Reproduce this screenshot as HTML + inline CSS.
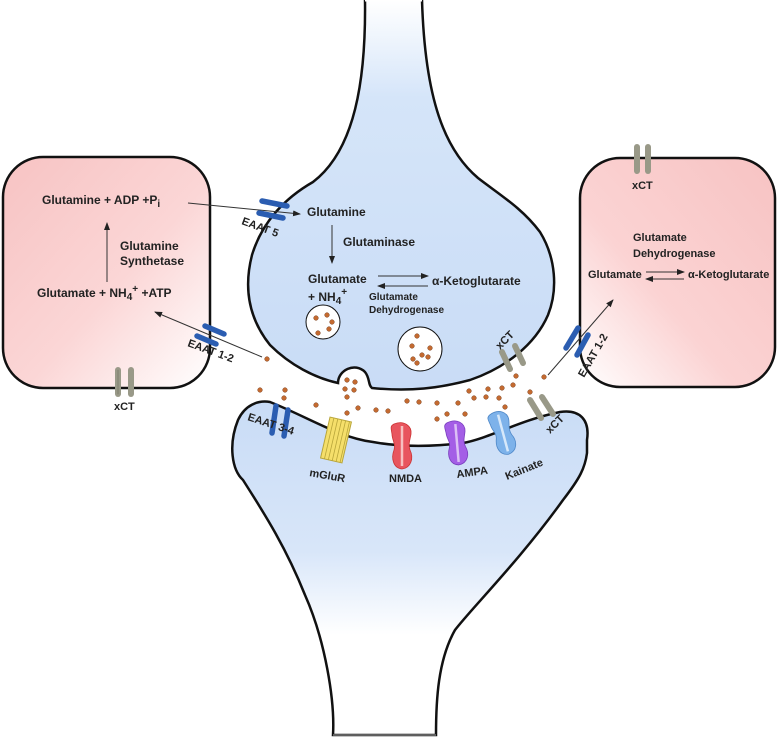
<!DOCTYPE html>
<html><head><meta charset="utf-8"><style>
html,body{margin:0;padding:0;background:#fff;}
svg{display:block;}
text{font-family:"Liberation Sans",Arial,sans-serif;font-weight:bold;fill:#222;}
</style></head><body>
<svg width="777" height="738" viewBox="0 0 777 738" xmlns="http://www.w3.org/2000/svg">
<defs>
<linearGradient id="pinkL" x1="0" y1="0" x2="1" y2="1">
<stop offset="0" stop-color="#f7c3c3"/><stop offset="0.55" stop-color="#fbd6d6"/><stop offset="1" stop-color="#ffffff"/></linearGradient>
<linearGradient id="pinkR" x1="1" y1="0" x2="0" y2="1">
<stop offset="0" stop-color="#f7c3c3"/><stop offset="0.6" stop-color="#fbd3d3"/><stop offset="1" stop-color="#ffffff"/></linearGradient>
<linearGradient id="bluePre" x1="0" y1="0" x2="0" y2="1">
<stop offset="0" stop-color="#ffffff"/><stop offset="0.25" stop-color="#d5e5f9"/><stop offset="1" stop-color="#c9dcf6"/></linearGradient>
<linearGradient id="bluePost" x1="0" y1="0" x2="0" y2="1">
<stop offset="0" stop-color="#c9dcf6"/><stop offset="0.45" stop-color="#d8e6f9"/><stop offset="0.7" stop-color="#ffffff"/></linearGradient>
<marker id="ah" markerWidth="8" markerHeight="8" refX="7" refY="4" orient="auto" markerUnits="userSpaceOnUse">
<path d="M0,1 L8,4 L0,7 Z" fill="#222"/></marker>
</defs>

<!-- astrocyte boxes -->
<rect x="3" y="157" width="207" height="231" rx="40" fill="url(#pinkL)" stroke="#111" stroke-width="2.5"/>
<rect x="580" y="158" width="195" height="229" rx="40" fill="url(#pinkR)" stroke="#111" stroke-width="2.5"/>

<!-- presynaptic -->
<path d="M365,0 C366,80 355,150 313,182 C285,198 262,222 252,255 C243,290 250,320 270,345 C290,365 315,378 338,383 C338,370 355,362 365,372 C370,378 368,385 372,388 C410,392 440,388 470,380 C505,368 535,345 548,315 C558,290 556,258 540,232 C522,208 500,195 478,178 C445,150 425,100 422,0"
 fill="url(#bluePre)" stroke="#111" stroke-width="2.5"/>
<path d="M365,0 L422,0" stroke="#fff" stroke-width="3"/>

<!-- postsynaptic -->
<path d="M243,480 C232,470 228,445 238,420 C245,405 258,400 270,402 C310,418 340,438 373,442 C400,447 430,447 463,443 C490,438 520,420 560,412 C580,409 590,420 587,440 L587,453 C585,468 580,478 563,500 C520,560 470,610 455,630 C438,660 436,700 436,735 L333,735 C335,700 325,640 305,595 C285,545 262,510 243,480 Z"
 fill="url(#bluePost)" stroke="#111" stroke-width="2.5"/>
<path d="M333,735 L436,735" stroke="#aaa" stroke-width="1"/>

<!-- vesicles -->
<circle cx="323" cy="322" r="17" fill="#fff" stroke="#111" stroke-width="1"/>
<circle cx="420" cy="349" r="22" fill="#fff" stroke="#111" stroke-width="1"/>
<g fill="#c46a30" stroke="#7a3a14" stroke-width="0.5">
<circle cx="316" cy="318" r="2.3"/><circle cx="327" cy="315" r="2.3"/><circle cx="332" cy="322" r="2.3"/><circle cx="329" cy="329" r="2.3"/><circle cx="318" cy="333" r="2.3"/>
<circle cx="417" cy="336" r="2.3"/><circle cx="412" cy="346" r="2.3"/><circle cx="430" cy="348" r="2.3"/><circle cx="422" cy="355" r="2.3"/><circle cx="413" cy="359" r="2.3"/><circle cx="428" cy="357" r="2.3"/><circle cx="417" cy="363" r="2.3"/>
<!-- cleft dots -->
<circle cx="267" cy="359" r="2.3"/><circle cx="284" cy="398" r="2.3"/><circle cx="285" cy="390" r="2.3"/><circle cx="260" cy="390" r="2.3"/>
<circle cx="347" cy="380" r="2.3"/><circle cx="355" cy="382" r="2.3"/><circle cx="345" cy="389" r="2.3"/><circle cx="354" cy="390" r="2.3"/><circle cx="347" cy="397" r="2.3"/>
<circle cx="316" cy="405" r="2.3"/><circle cx="347" cy="413" r="2.3"/><circle cx="358" cy="408" r="2.3"/><circle cx="376" cy="410" r="2.3"/><circle cx="388" cy="411" r="2.3"/>
<circle cx="407" cy="401" r="2.3"/><circle cx="419" cy="402" r="2.3"/><circle cx="437" cy="419" r="2.3"/><circle cx="447" cy="414" r="2.3"/><circle cx="465" cy="414" r="2.3"/>
<circle cx="437" cy="403" r="2.3"/><circle cx="458" cy="403" r="2.3"/><circle cx="469" cy="391" r="2.3"/><circle cx="474" cy="398" r="2.3"/><circle cx="488" cy="389" r="2.3"/>
<circle cx="486" cy="397" r="2.3"/><circle cx="502" cy="388" r="2.3"/><circle cx="499" cy="398" r="2.3"/><circle cx="505" cy="407" r="2.3"/><circle cx="500" cy="415" r="2.3"/>
<circle cx="530" cy="392" r="2.3"/><circle cx="544" cy="377" r="2.3"/><circle cx="516" cy="376" r="2.3"/><circle cx="513" cy="385" r="2.3"/>
</g>

<!-- arrows -->
<g stroke="#333" stroke-width="1" fill="none">
<line x1="107" y1="282" x2="107" y2="223" marker-end="url(#ah)"/>
<line x1="188" y1="203" x2="300" y2="214" marker-end="url(#ah)"/>
<line x1="332" y1="225" x2="332" y2="263" marker-end="url(#ah)"/>
<line x1="378" y1="276" x2="428" y2="276" marker-end="url(#ah)"/>
<line x1="428" y1="286" x2="378" y2="286" marker-end="url(#ah)"/>
<line x1="262" y1="357" x2="155" y2="312" marker-end="url(#ah)"/>
<line x1="548" y1="375" x2="613" y2="300" marker-end="url(#ah)"/>
<line x1="646" y1="272" x2="684" y2="272" marker-end="url(#ah)"/>
<line x1="684" y1="279" x2="646" y2="279" marker-end="url(#ah)"/>
</g>

<!-- transporters -->
<g stroke="#2b5db1" stroke-width="5.5" stroke-linecap="round">
<line x1="262" y1="201" x2="287" y2="206"/><line x1="259" y1="213" x2="283" y2="218"/>
<line x1="205" y1="326" x2="224" y2="334"/><line x1="197" y1="336" x2="216" y2="344"/>
<line x1="578" y1="328" x2="566" y2="348"/><line x1="588" y1="335" x2="577" y2="355"/>
<line x1="276" y1="406" x2="272" y2="433"/><line x1="288" y1="410" x2="284" y2="436"/>
</g>
<g stroke="#999988" stroke-width="6" stroke-linecap="round">
<line x1="118" y1="370" x2="118" y2="394"/><line x1="131" y1="370" x2="131" y2="394"/>
<line x1="637" y1="147" x2="637" y2="171"/><line x1="648" y1="147" x2="648" y2="171"/>
<line x1="502" y1="352" x2="510" y2="369"/><line x1="515" y1="346" x2="523" y2="363"/>
<line x1="530" y1="400" x2="541" y2="418"/><line x1="542" y1="397" x2="553" y2="414"/>
</g>
<g stroke="#666655" stroke-width="1" fill="none" stroke-linecap="round">
<line x1="118" y1="370" x2="118" y2="394" stroke-width="0.5"/>
</g>

<!-- receptors -->
<g transform="translate(336,440) rotate(13)">
<rect x="-11" y="-21" width="22" height="42" fill="#f5df6a" stroke="#b8a53a" stroke-width="1"/>
<g stroke="#b8a53a" stroke-width="0.8"><line x1="-7" y1="-21" x2="-7" y2="21"/><line x1="-3" y1="-21" x2="-3" y2="21"/><line x1="1" y1="-21" x2="1" y2="21"/><line x1="5" y1="-21" x2="5" y2="21"/><line x1="9" y1="-21" x2="9" y2="21"/></g>
</g>
<g transform="translate(402,446)">
<path d="M-8,-22 C2,-26 10,-20 9,-12 C8,-6 6,-2 8,4 C12,12 9,22 0,23 C-9,22 -11,12 -8,4 C-6,-2 -10,-6 -10,-12 C-11,-18 -12,-20 -8,-22Z" fill="#e8555e" stroke="#c33" stroke-width="0.8"/>
<line x1="0" y1="-20" x2="0" y2="20" stroke="#f7c0c0" stroke-width="2.5"/>
</g>
<g transform="translate(457,443) rotate(-5)">
<path d="M-8,-21 C2,-25 10,-19 9,-11 C8,-5 6,-2 8,4 C12,12 9,21 0,22 C-9,21 -11,12 -8,4 C-6,-2 -10,-5 -10,-11 C-11,-17 -12,-19 -8,-21Z" fill="#a45ee6" stroke="#7a3fbf" stroke-width="0.8"/>
<line x1="0" y1="-19" x2="0" y2="19" stroke="#dcc0f5" stroke-width="2.5"/>
</g>
<g transform="translate(503,433) rotate(-15)">
<path d="M-8,-21 C2,-25 10,-19 9,-11 C8,-5 6,-2 8,4 C12,12 9,21 0,22 C-9,21 -11,12 -8,4 C-6,-2 -10,-5 -10,-11 C-11,-17 -12,-19 -8,-21Z" fill="#7db2ea" stroke="#4f88c8" stroke-width="0.8"/>
<line x1="0" y1="-19" x2="0" y2="19" stroke="#d6e8fa" stroke-width="2.5"/>
</g>

<!-- text -->
<g font-size="12">
<text x="42" y="204">Glutamine + ADP +P<tspan font-size="10" dy="3">i</tspan></text>
<text x="120" y="250">Glutamine</text>
<text x="120" y="265">Synthetase</text>
<text x="37" y="297">Glutamate + NH<tspan font-size="10" dy="3">4</tspan><tspan font-size="10" dy="-8">+</tspan><tspan dy="5"> +ATP</tspan></text>
<text x="307" y="216">Glutamine</text>
<text x="343" y="246">Glutaminase</text>
<text x="308" y="283">Glutamate</text>
<text x="308" y="301">+ NH<tspan font-size="10" dy="3">4</tspan><tspan font-size="10" dy="-9">+</tspan></text>
<text x="432" y="285">α-Ketoglutarate</text>
</g>
<g font-size="10">
<text x="369" y="300">Glutamate</text>
<text x="369" y="313">Dehydrogenase</text>
</g>
<g font-size="11">
<text x="633" y="241">Glutamate</text>
<text x="633" y="257">Dehydrogenase</text>
<text x="588" y="278">Glutamate</text>
<text x="688" y="278">α-Ketoglutarate</text>
<text x="114" y="410">xCT</text>
<text x="632" y="189">xCT</text>
</g>
<g font-size="11">
<text transform="translate(241,224) rotate(20)">EAAT 5</text>
<text transform="translate(187,346) rotate(20)">EAAT 1-2</text>
<text transform="translate(584,378) rotate(-60)">EAAT 1-2</text>
<text transform="translate(500,350) rotate(-45)">xCT</text>
<text transform="translate(550,434) rotate(-45)">xCT</text>
<text transform="translate(247,420) rotate(18)">EAAT 3-4</text>
<text transform="translate(309,476) rotate(10)">mGluR</text>
<text x="389" y="482">NMDA</text>
<text transform="translate(457,478) rotate(-8)">AMPA</text>
<text transform="translate(507,480) rotate(-22)">Kainate</text>
</g>
</svg>
</body></html>
